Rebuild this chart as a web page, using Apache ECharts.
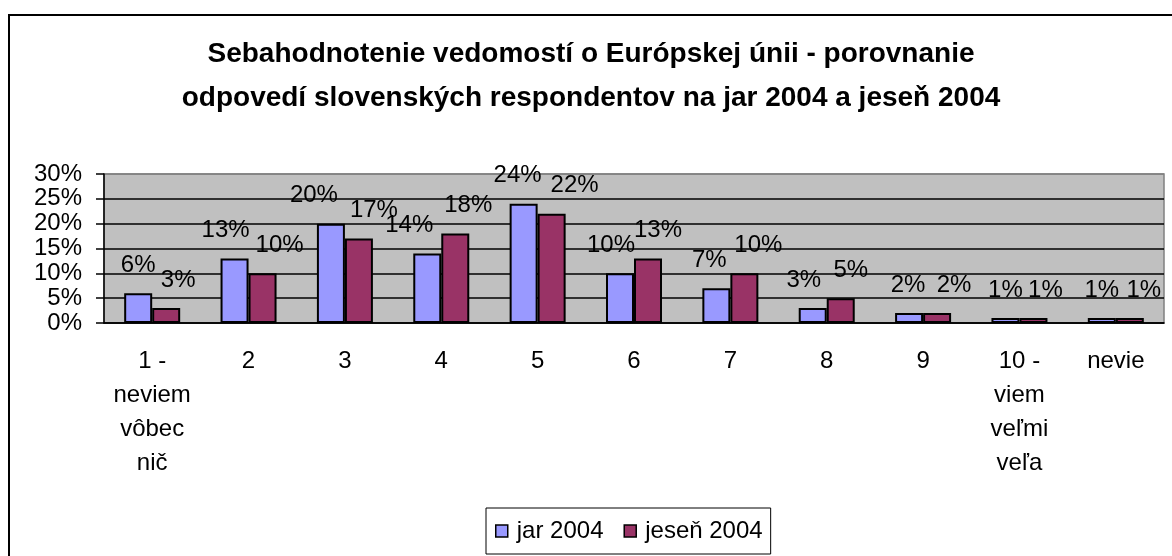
<!DOCTYPE html>
<html>
<head>
<meta charset="utf-8">
<script src="https://cdn.jsdelivr.net/npm/echarts@6/dist/echarts.min.js"></script>
<style>
  html, body { margin: 0; padding: 0; background: #fff; }
  #chart { width: 1172px; height: 556px; }
  #frame { position: absolute; left: 8px; top: 14px; width: 1200px; height: 600px; border: 2px solid #000; box-sizing: border-box; pointer-events: none; }
</style>
</head>
<body>
<div id="chart"></div>
<div id="frame"></div>
<script>
const categories = ["1 -\nneviem\nvôbec\nnič", "2", "3", "4", "5", "6", "7", "8", "9", "10 -\nviem\nveľmi\nveľa", "nevie"];
const jar2004 = [0.06, 0.13, 0.20, 0.14, 0.24, 0.10, 0.07, 0.03, 0.02, 0.01, 0.01];
const jesen2004 = [0.03, 0.10, 0.17, 0.18, 0.22, 0.13, 0.10, 0.05, 0.02, 0.01, 0.01];
const yTicks = [0, 0.05, 0.10, 0.15, 0.20, 0.25, 0.30];

// horizontal nudges of the value labels, like Excel spreads them apart
const jarLabelShift = [0, -9, -17, -18, -6, -9, -7, -9, -1, 0, 0];
const jesenLabelShift = [12, 17, 15, 13, 23, 10, 14, 10, 17, 12, 14];

const FONT = "Liberation Sans, Arial, sans-serif";
const FS = 24;
const pct = (v) => Math.round(v * 100) + "%";

function seriesData(values, shifts) {
  return values.map((v, i) => ({
    value: v,
    label: { offset: [shifts[i], 0] },
  }));
}

const chart = echarts.init(document.getElementById("chart"));

chart.setOption({
  animation: false,
  backgroundColor: "#fff",
  title: {
    text: "Sebahodnotenie vedomostí o Európskej únii - porovnanie\nodpovedí slovenských respondentov na jar 2004 a jeseň 2004",
    left: 586,
    top: 27,
    textAlign: "center",
    textStyle: { fontFamily: FONT, fontSize: 28, fontWeight: "bold", color: "#000", lineHeight: 44 },
  },
  legend: {
    left: 486,
    top: 508,
    padding: [11, 8, 11, 9],
    borderColor: "#000",
    borderWidth: 1,
    itemWidth: 12,
    itemHeight: 12,
    itemGap: 20,
    icon: "rect",
    itemStyle: { borderColor: "#000", borderWidth: 1.5 },
    textStyle: { fontFamily: FONT, fontSize: FS, color: "#000", padding: [0, 0, 0, 4] },
    data: ["jar 2004", "jeseň 2004"],
  },
  grid: {
    left: 104,
    right: 8,
    top: 174,
    bottom: 233,
    show: true,
    backgroundColor: "#c0c0c0",
    borderColor: "#808080",
    borderWidth: 1.5,
  },
  xAxis: {
    type: "category",
    data: categories,
    axisLine: { lineStyle: { color: "#000", width: 1.5 } },
    axisTick: { length: 8, lineStyle: { color: "#000", width: 1.5 } },
    axisLabel: { fontFamily: FONT, fontSize: FS, color: "#000", lineHeight: 34, margin: 21, interval: 0 },
  },
  yAxis: {
    type: "value",
    min: yTicks[0],
    max: yTicks[yTicks.length - 1],
    interval: 0.05,
    axisLine: { show: true, lineStyle: { color: "#000", width: 1.5 } },
    axisTick: { show: true, length: 8, lineStyle: { color: "#000", width: 1.5 } },
    axisLabel: { fontFamily: FONT, fontSize: FS, color: "#000", margin: 22, formatter: pct },
    splitLine: { lineStyle: { color: ["#000", "#000", "#000", "#000", "#000", "#000", "#808080"], width: 1.5 } },
  },
  series: [
    {
      name: "jar 2004",
      type: "bar",
      data: seriesData(jar2004, jarLabelShift),
      barWidth: 28,
      barGap: "0%",
      itemStyle: { color: "#9999ff", borderColor: "#000", borderWidth: 2 },
      label: { show: true, position: "top", distance: 16, fontFamily: FONT, fontSize: FS, color: "#000", formatter: (p) => pct(p.value) },
    },
    {
      name: "jeseň 2004",
      type: "bar",
      data: seriesData(jesen2004, jesenLabelShift),
      barWidth: 28,
      itemStyle: { color: "#993366", borderColor: "#000", borderWidth: 2 },
      label: { show: true, position: "top", distance: 16, fontFamily: FONT, fontSize: FS, color: "#000", formatter: (p) => pct(p.value) },
    },
  ],
});

window.addEventListener("resize", () => chart && chart.resize());
</script>
</body>
</html>
